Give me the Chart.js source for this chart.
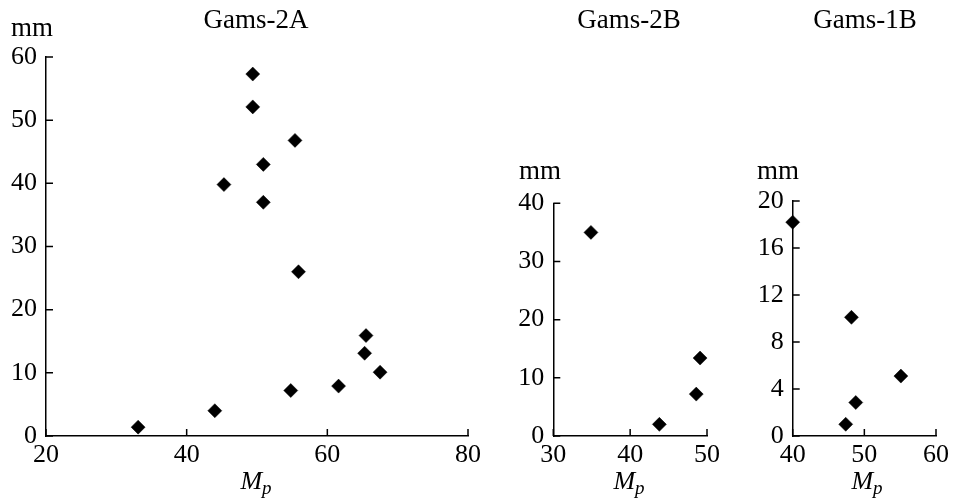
<!DOCTYPE html>
<html><head><meta charset="utf-8">
<script src="https://cdn.jsdelivr.net/npm/chart.js@4/dist/chart.umd.min.js"></script>
<style>
html,body{margin:0;padding:0;background:#fff;}
#wrap{position:relative;width:953px;height:502px;overflow:hidden;font-family:"Liberation Serif","Times New Roman",serif;color:#000;}
canvas{position:absolute;left:0;top:0;}
.t{position:absolute;font-size:27px;line-height:27px;white-space:nowrap;}
.c{transform:translateX(-50%);}
.mp{font-size:26px;line-height:26px;}
.mp i{font-style:italic;}
.mp sub{font-size:19px;font-style:italic;vertical-align:-5px;line-height:0;}
</style></head>
<body>
<div id="wrap">
<canvas id="c1" width="953" height="502"></canvas>
<canvas id="c2" width="953" height="502"></canvas>
<canvas id="c3" width="953" height="502"></canvas>
<div class="t c" style="left:256px;top:6px">Gams-2A</div>
<div class="t c" style="left:629px;top:6px">Gams-2B</div>
<div class="t c" style="left:865px;top:6px">Gams-1B</div>
<div class="t" style="left:11px;top:14px">mm</div>
<div class="t" style="left:519px;top:157px">mm</div>
<div class="t" style="left:757px;top:157px">mm</div>
<div class="t c mp" style="left:256px;top:468px"><i>M</i><sub>p</sub></div>
<div class="t c mp" style="left:629px;top:468px"><i>M</i><sub>p</sub></div>
<div class="t c mp" style="left:867px;top:468px"><i>M</i><sub>p</sub></div>
</div>
<script>
// ---- data ----
const gams2A_Mp = [33.1, 44.0, 45.3, 49.4, 49.4, 50.9, 50.9, 55.4, 55.9, 54.8, 61.6, 65.5, 65.3, 67.5];
const gams2A_mm = [1.4, 4.0, 39.8, 57.3, 52.1, 43.0, 37.0, 46.8, 26.0, 7.2, 7.9, 15.9, 13.1, 10.1];
const gams2B_Mp = [34.9, 43.8, 48.6, 49.1];
const gams2B_mm = [35.0, 2.0, 7.2, 13.4];
const gams1B_Mp = [40.0, 48.2, 55.1, 48.8, 47.4];
const gams1B_mm = [18.2, 10.1, 5.1, 2.85, 1.0];

const ticks2A_x = [20, 40, 60, 80];
const ticks2A_y = [0, 10, 20, 30, 40, 50, 60];
const ticks2B_x = [30, 40, 50];
const ticks2B_y = [0, 10, 20, 30, 40];
const ticks1B_x = [40, 50, 60];
const ticks1B_y = [0, 4, 8, 12, 16, 20];

const FONT = {family: "'Liberation Serif','Times New Roman',serif", size: 26};

const tickMarks = {
  id: 'tickMarks',
  beforeDatasetsDraw(chart) {
    const ctx = chart.ctx, xs = chart.scales.x, ys = chart.scales.y;
    ctx.save();
    ctx.strokeStyle = '#000';
    ctx.lineWidth = 1.5;
    ctx.beginPath();
    xs.ticks.forEach(t => {
      const px = xs.getPixelForValue(t.value);
      ctx.moveTo(px, ys.bottom); ctx.lineTo(px, ys.bottom - 7);
    });
    ys.ticks.forEach(t => {
      const py = ys.getPixelForValue(t.value);
      ctx.moveTo(xs.left, py); ctx.lineTo(xs.left + 7, py);
    });
    ctx.stroke();
    ctx.restore();
  }
};

function makeChart(id, xv, yv, tx, ty, lay) {
  const pts = xv.map((x, i) => ({x: x, y: yv[i]}));
  return new Chart(document.getElementById(id), {
    type: 'scatter',
    data: {datasets: [{
      data: pts,
      pointStyle: 'rectRot',
      pointRadius: 7,
      backgroundColor: '#000',
      borderColor: '#000',
      borderWidth: 0.5,
      clip: false
    }]},
    options: {
      responsive: false,
      animation: false,
      events: [],
      layout: {padding: {left: lay.L, top: lay.T, right: 953 - lay.R, bottom: 0}},
      plugins: {legend: {display: false}, tooltip: {enabled: false}},
      scales: {
        x: {
          type: 'linear', min: tx[0], max: tx[tx.length - 1],
          afterBuildTicks: s => { s.ticks = tx.map(v => ({value: v})); },
          afterFit: s => { s.height = 502 - 436; },
          grid: {display: false, drawTicks: false},
          border: {display: true, color: '#000', width: 1.5},
          ticks: {color: '#000', font: FONT, padding: 4, maxRotation: 0, autoSkip: false}
        },
        y: {
          type: 'linear', min: ty[0], max: ty[ty.length - 1],
          afterBuildTicks: s => { s.ticks = ty.map(v => ({value: v})); },
          afterFit: s => { s.width = lay.W; },
          grid: {display: false, drawTicks: false},
          border: {display: true, color: '#000', width: 1.5},
          ticks: {color: '#000', font: FONT, padding: 9, autoSkip: false}
        }
      }
    },
    plugins: [tickMarks]
  });
}

makeChart('c1', gams2A_Mp, gams2A_mm, ticks2A_x, ticks2A_y, {L: 0, W: 46, T: 57, R: 468});
makeChart('c2', gams2B_Mp, gams2B_mm, ticks2B_x, ticks2B_y, {L: 500, W: 53.3, T: 203.3, R: 707});
makeChart('c3', gams1B_Mp, gams1B_mm, ticks1B_x, ticks1B_y, {L: 740, W: 52.7, T: 201, R: 938.7});
</script>
</body></html>
